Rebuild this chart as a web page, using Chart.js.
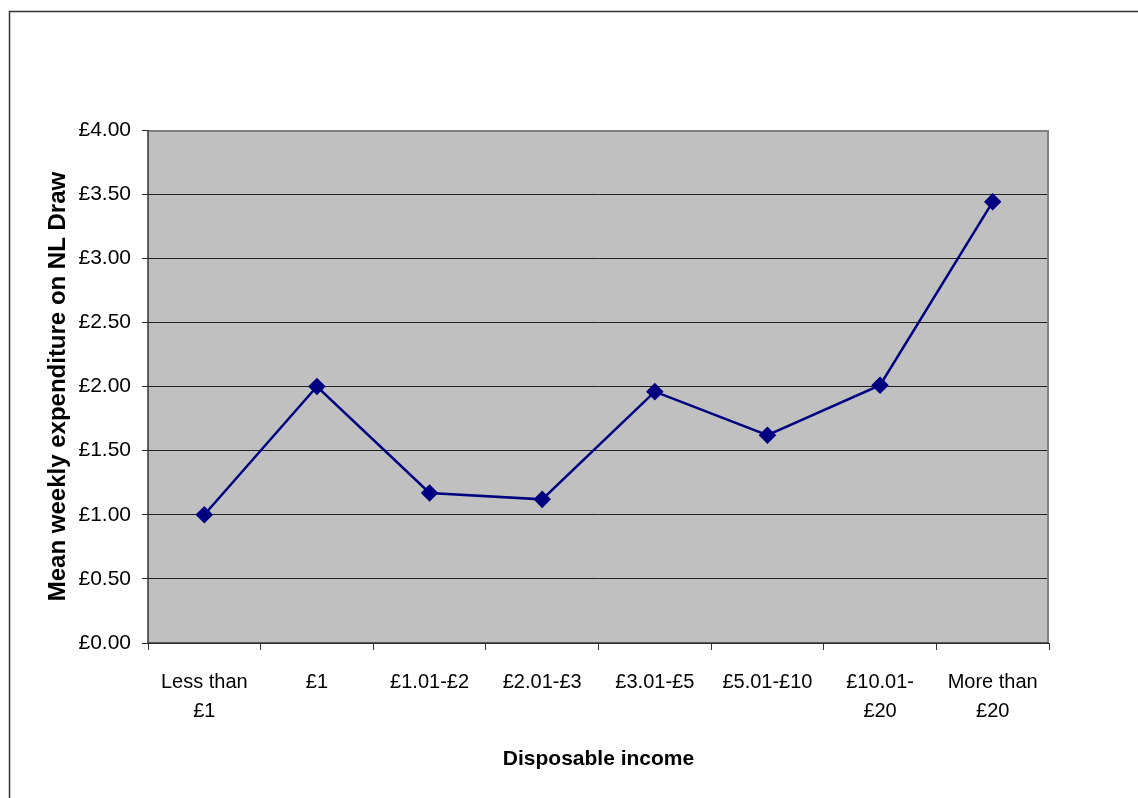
<!DOCTYPE html>
<html>
<head>
<meta charset="utf-8">
<script src="https://cdn.jsdelivr.net/npm/chart.js@4.4.1/dist/chart.umd.min.js"></script>
<style>
  html, body { margin: 0; padding: 0; background: #fff; }
  #wrap { width: 1138px; height: 798px; }
</style>
</head>
<body>
<div id="wrap"><canvas id="c" width="1138" height="798"></canvas></div>
<script>
const categories = [
  ['Less than', '£1'], '£1', '£1.01-£2', '£2.01-£3', '£3.01-£5', '£5.01-£10', ['£10.01-', '£20'], ['More than', '£20']
];
const meanSpend = [1.00, 2.00, 1.17, 1.12, 1.96, 1.62, 2.01, 3.44];
const yMin = 0, yMax = 4, yStep = 0.5;
const xTitle = 'Disposable income';
const yTitle = 'Mean weekly expenditure on NL Draw';

const FONT = "'Liberation Sans', Arial, sans-serif";

const framePlugin = {
  id: 'frame',
  beforeDraw(chart) {
    const { ctx, chartArea: a } = chart;
    ctx.save();
    ctx.fillStyle = '#fff';
    ctx.fillRect(0, 0, chart.width, chart.height);
    ctx.strokeStyle = '#333';
    ctx.lineWidth = 1.5;
    ctx.strokeRect(9.5, 11.5, chart.width + 10, chart.height + 10);
    ctx.fillStyle = '#c0c0c0';
    ctx.fillRect(a.left, a.top, a.right - a.left, a.bottom - a.top);
    ctx.restore();
  },
  afterDatasetsDraw(chart) {
    const { ctx, chartArea: a } = chart;
    ctx.save();
    ctx.strokeStyle = '#808080';
    ctx.lineWidth = 2;
    ctx.beginPath();
    ctx.moveTo(a.left, a.top + 1);
    ctx.lineTo(a.right - 1, a.top + 1);
    ctx.lineTo(a.right - 1, a.bottom);
    ctx.stroke();
    ctx.strokeStyle = '#333';
    ctx.lineWidth = 1.5;
    ctx.beginPath();
    ctx.moveTo(a.left, a.top);
    ctx.lineTo(a.left, a.bottom);
    ctx.lineTo(a.right, a.bottom);
    ctx.stroke();
    ctx.restore();
  }
};

new Chart(document.getElementById('c'), {
  type: 'line',
  data: {
    labels: categories,
    datasets: [{
      data: meanSpend,
      borderColor: '#000080',
      backgroundColor: '#000080',
      borderWidth: 2.5,
      pointStyle: 'rectRot',
      pointRadius: 7,
      pointHoverRadius: 7,
      tension: 0,
      fill: false
    }]
  },
  plugins: [framePlugin],
  options: {
    responsive: false,
    animation: false,
    layout: { padding: { left: 0, top: 130, right: 89, bottom: 0 } },
    plugins: { legend: { display: false }, tooltip: { enabled: false } },
    scales: {
      x: {
        type: 'category',
        offset: true,
        grid: { drawOnChartArea: false, drawTicks: true, tickLength: 7, offset: true, color: '#333', lineWidth: 1 },
        border: { display: false },
        ticks: {
          color: '#000',
          font: { family: FONT, size: 20, lineHeight: 1.45 },
          maxRotation: 0, minRotation: 0, autoSkip: false, padding: 18
        },
        title: {
          display: true, text: xTitle, color: '#000',
          font: { family: FONT, size: 21, weight: 'bold' },
          padding: { top: 0, bottom: 26 }
        },
        afterFit(scale) { scale.height = 155; }
      },
      y: {
        min: yMin, max: yMax,
        grid: { color: '#222', lineWidth: 1, tickLength: 6, drawTicks: true },
        border: { display: false },
        ticks: {
          stepSize: yStep,
          color: '#000',
          font: { family: FONT, size: 21 },
          padding: 11,
          callback: v => '£' + Number(v).toFixed(2)
        },
        title: {
          display: true, text: yTitle, color: '#000',
          font: { family: FONT, size: 24, weight: 'bold' },
          padding: { top: 44, bottom: 0 }
        },
        afterFit(scale) { scale.width = 148; }
      }
    }
  }
});
</script>
</body>
</html>
